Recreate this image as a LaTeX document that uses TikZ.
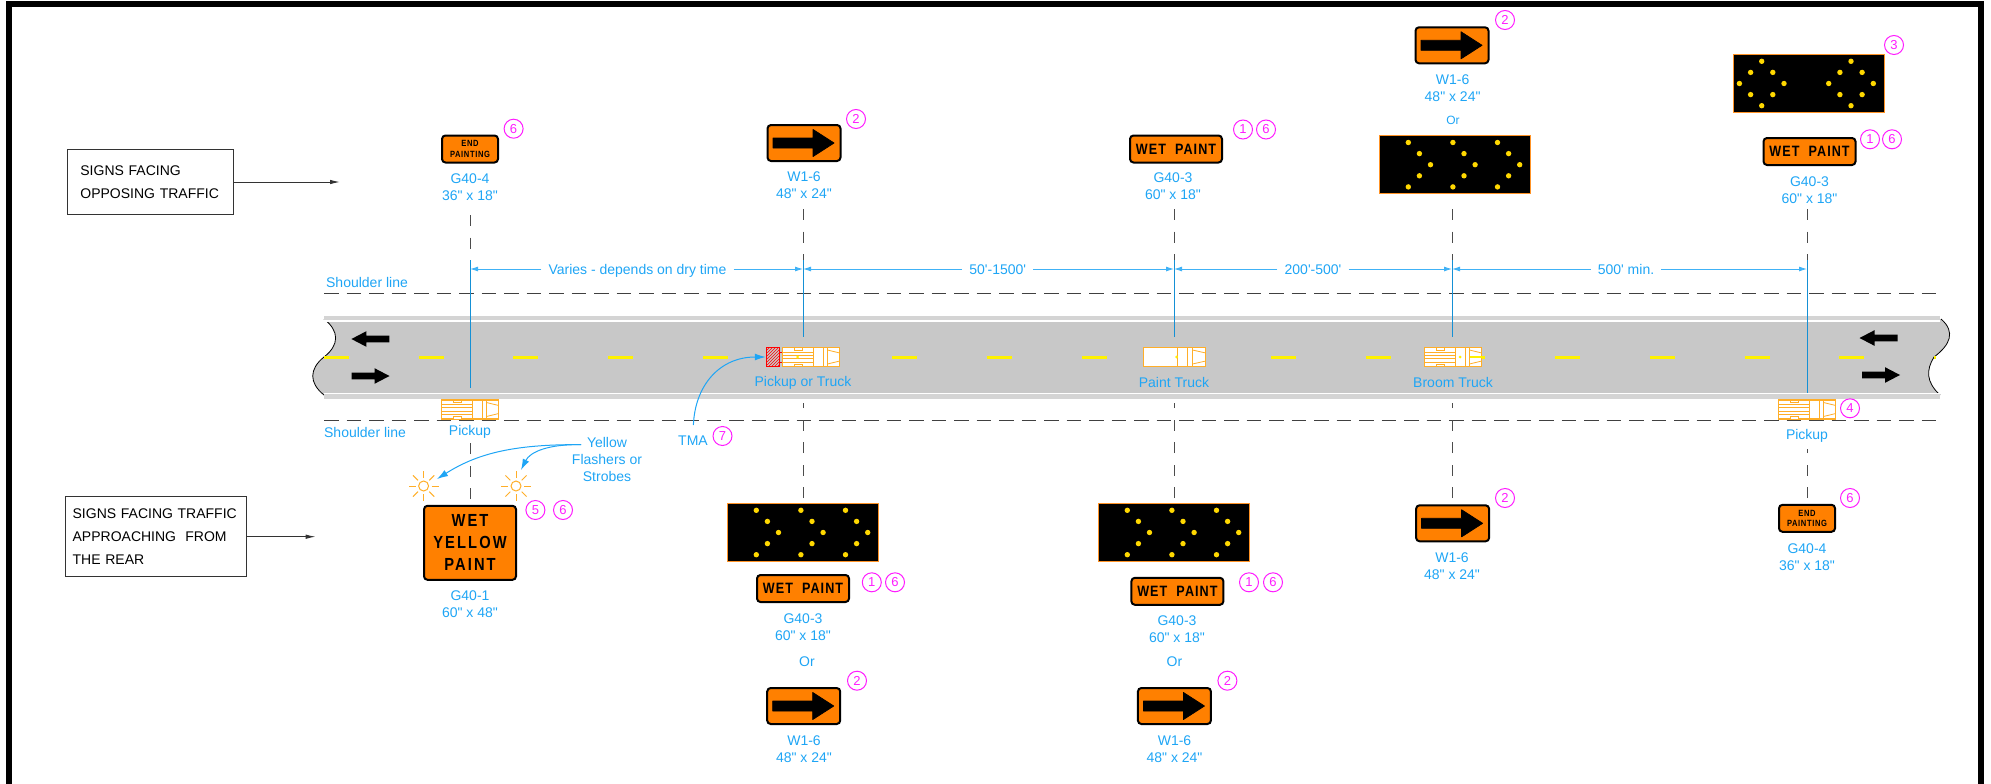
\documentclass[tikz,border=0pt]{standalone}
\usepackage{fontspec}
\usetikzlibrary{arrows.meta,positioning,patterns}
\newfontfamily\lblfont{Liberation Sans}
\newfontfamily\signfont[FakeStretch=0.84,LetterSpace=7]{Liberation Sans}
\newfontfamily\bigsignfont[FakeStretch=0.84,LetterSpace=12]{Liberation Sans}
\definecolor{lblue}{HTML}{1EA5F5}
\definecolor{linblue}{HTML}{1590D5}
\definecolor{numpink}{HTML}{FF1CFF}
\definecolor{signorange}{HTML}{FF8000}
\definecolor{truckorange}{HTML}{FFAE28}
\definecolor{dotyellow}{HTML}{FFD800}
\definecolor{roadgray}{HTML}{C8C8C8}
\definecolor{bandgray}{HTML}{D4D4D4}
\tikzset{
    lbl/.style={font=\lblfont\fontsize{14}{16.7}\selectfont, text=lblue, align=center, inner sep=0pt},
    sgnlbl/.style={lbl, yshift=-1pt},
    dimlbl/.style={lbl, inner xsep=7pt, text height=10pt, text depth=0pt},
    smalllbl/.style={font=\lblfont\fontsize{12}{14}\selectfont, text=lblue, inner sep=0pt},
    numc/.style={circle, draw=numpink, text=numpink, line width=1pt, minimum size=19pt, inner sep=0pt, font=\lblfont\fontsize{13}{13}\selectfont},
    legend/.style={rectangle, draw=black!80, line width=1pt, align=left, font=\lblfont\fontsize{14}{22.7}\selectfont},
    signbox/.style={rectangle, rounded corners=3.5pt, draw=black, line width=2pt, fill=signorange, inner sep=0pt, align=center},
    wetsign/.style={signbox, minimum width=92pt, minimum height=27pt, font=\signfont\bfseries\fontsize{15}{15}\selectfont},
    endsign/.style={signbox, minimum width=56pt, minimum height=27pt, font=\signfont\bfseries\fontsize{9}{10.5}\selectfont},
    arrsign/.style={signbox, minimum width=73pt, minimum height=36pt},
    yelsign/.style={signbox, minimum width=92pt, minimum height=74pt, font=\bigsignfont\bfseries\fontsize{17.5}{22}\selectfont},
    panel/.style={rectangle, draw=signorange!85!white, line width=1.5pt, fill=black, minimum width=151pt, minimum height=58pt, inner sep=0pt},
    tmabox/.style={rectangle, draw=red, line width=1pt, fill=red!25, pattern=north east lines, pattern color=red, minimum width=13pt, minimum height=19pt, inner sep=0pt},
    guide/.style={draw=black!70, line width=1pt, dash pattern=on 11pt off 11.5pt},
    shoulder/.style={draw=black!75, line width=1pt, dash pattern=on 14.5pt off 8pt},
    offset/.style={draw=linblue, line width=.8pt},
    dimln/.style={draw=lblue!85!white, line width=.9pt, -{Latex[length=8pt,width=5pt]}},
    pil/.style={draw=lblue, line width=1pt, -{Latex[length=11pt,width=7pt]}},
    legpil/.style={draw=black!80, line width=1pt, -{Latex[length=10pt,width=4.5pt]}},
    signarrow/.pic={
      \fill[black, draw=black, line width=.8pt, line join=round] (-31,-5) -- (9,-5) -- (9,-13.5) -- (30,0) -- (9,13.5) -- (9,5) -- (-31,5) -- cycle;
    },
    roadarrow/.pic={
      \fill[black] (-19,-3.4) -- (4,-3.4) -- (4,-7.8) -- (19,0) -- (4,7.8) -- (4,3.4) -- (-19,3.4) -- cycle;
    },
    chevdots/.pic={
      \foreach \s in {-46.7,-2.1,42.5} {
        \foreach \a/\b in {0/-22.2,11.1/-11.1,22.2/0,11.1/11.1,0/22.2}
          \fill[dotyellow] (\s+\a,\b) circle (2.7);
      }
    },
    diadots/.pic={
      \foreach \s in {-47.3,42} {
        \foreach \a/\b in {0/-22.2,-11.1/-11.1,11.1/-11.1,-22.3/0,22.3/0,-11.1/11.1,11.1/11.1,0/22.2}
          \fill[dotyellow] (\s+\a,\b) circle (2.7);
      }
    },
    sunflash/.pic={
      \draw[truckorange, line width=1pt] (0,0) circle (5);
      \foreach \t in {0,45,...,315}
        \draw[truckorange, line width=1pt] (\t:8) -- (\t:15);
    },
    truck/.pic={
      \draw[truckorange, line width=1.4pt, fill=white] (-28.7,-9.5) rectangle (28.7,9.5);
      \draw[truckorange, line width=1.1pt] (2.7,-9.5) -- (2.7,9.5) (12.3,-9.5) -- (12.3,9.5) (16.5,-9.5) -- (16.5,9.5);
      \draw[truckorange, line width=.8pt] (16.5,-7) -- (28.7,-4) (16.5,7) -- (28.7,4);
    },
    bedlines/.pic={
      \draw[truckorange, line width=1pt] (-28.7,-5) -- (2.7,-5) (-28.7,-1.7) -- (2.7,-1.7) (-28.7,1.7) -- (2.7,1.7) (-28.7,5) -- (2.7,5);
      \draw[truckorange, line width=.8pt, fill=white] (-16.7,-9.5) rectangle (-9,-7) (-16.7,9.5) rectangle (-9,7);
    }
}

\begin{document}
\begin{tikzpicture}[x=1pt, y=-1pt]
    \useasboundingbox (0,0) rectangle (1991,784);
    % outer frame
    \draw[line width=6pt] (8.5,784) -- (8.5,4) -- (1981,4) -- (1981,784);

    % road
    \fill[roadgray] (324,319) .. controls (339.5,331) and (339.5,345) .. (324,357)
      .. controls (309,369) and (309,383) .. (324,395) -- (1940,395)
      .. controls (1926,382) and (1926,370) .. (1934,357)
      .. controls (1950,345) and (1956,332) .. (1941,319) -- cycle;
    \draw[line width=.8pt] (324,319) .. controls (339.5,331) and (339.5,345) .. (324,357)
      .. controls (309,369) and (309,383) .. (324,395);
    \draw[line width=.8pt] (1940,395) .. controls (1926,382) and (1926,370) .. (1934,357)
      .. controls (1950,345) and (1956,332) .. (1941,319);
    \fill[bandgray] (324,315.5) rectangle (1940,320);
    \fill[white] (324,320) rectangle (1940,321.5);
    \fill[white] (324,392.5) rectangle (1940,394);
    \fill[bandgray] (324,394) rectangle (1940,398.5);
    \draw[yellow, line width=3pt, dash pattern=on 25pt off 69.7pt] (324,357) -- (1936,357);
    \pic at (370.4,339) [xscale=-1] {roadarrow};
    \pic at (370.5,376) {roadarrow};
    \pic at (1878.5,338) [xscale=-1] {roadarrow};
    \pic at (1881,375) {roadarrow};

    % shoulder lines
    \coordinate (shuL) at (324,293.7);
    \coordinate (shuR) at (1940,293.7);
    \coordinate (shlL) at (324,420);
    \coordinate (shlR) at (1940,420);
    \draw[shoulder] (shuL) -- (shuR);
    \draw[shoulder] (shlL) -- (shlR);
    \node[lbl] (shuText) at (367,282.7) {Shoulder line};
    \node[lbl] (shlText) at (365,432.3) {Shoulder line};

    % legend boxes
    \node[legend, text width=140pt, inner xsep=13pt, minimum height=64.6pt] (opposing) at (150.4,182) {SIGNS FACING\\OPPOSING TRAFFIC};
    \coordinate (oppTip) at (340,182);
    \draw[legpil] (opposing.east |- oppTip) -- (oppTip);
    \node[legend, text width=167.3pt, inner xsep=6.7pt, minimum height=80pt] (rear) at (156.3,536.7) {SIGNS FACING TRAFFIC\\APPROACHING\ \ FROM\\THE REAR};
    \coordinate (rearTip) at (315.7,536.7);
    \draw[legpil] (rear.east |- rearTip) -- (rearTip);

    % vertical guide lines, all drawn away from the road end of the sign
    \coordinate (gA1) at (470,215);
    \coordinate (gA2) at (470,260);
    \coordinate (gA3) at (470,388);
    \coordinate (gA4) at (470,442);
    \coordinate (gA5) at (470,499);
    \coordinate (gB1) at (803,209);
    \coordinate (gB2) at (803,260);
    \coordinate (gB3) at (803,337);
    \coordinate (gB4) at (803,403);
    \coordinate (gB5) at (803,498);
    \coordinate (gC1) at (1174,209);
    \coordinate (gC2) at (1174,260);
    \coordinate (gC3) at (1174,337);
    \coordinate (gC4) at (1174,403);
    \coordinate (gC5) at (1174,498);
    \coordinate (gD1) at (1452,209);
    \coordinate (gD2) at (1452,260);
    \coordinate (gD3) at (1452,337);
    \coordinate (gD4) at (1452,403);
    \coordinate (gD5) at (1452,498);
    \coordinate (gE1) at (1807,209);
    \coordinate (gE2) at (1807,260);
    \coordinate (gE3) at (1807,393);
    \coordinate (gE4) at (1807,449);
    \coordinate (gE5) at (1807,498);
    \draw[guide] (gA1) -- (gA2);
    \draw[guide] (gB1) -- (gB2);
    \draw[guide] (gC1) -- (gC2);
    \draw[guide] (gD1) -- (gD2);
    \draw[guide] (gE1) -- (gE2);
    \draw[guide] (gA5) -- (gA4);
    \draw[guide] (gB5) -- (gB4);
    \draw[guide] (gC5) -- (gC4);
    \draw[guide] (gD5) -- (gD4);
    \draw[guide] (gE5) -- (gE4);
    \draw[offset] (gA2) -- (gA3);
    \draw[offset] (gB2) -- (gB3);
    \draw[offset] (gC2) -- (gC3);
    \draw[offset] (gD2) -- (gD3);
    \draw[offset] (gE2) -- (gE3);

    % spacing dimensions
    \coordinate (dA) at (470,269);
    \coordinate (dB) at (803,269);
    \coordinate (dC) at (1174,269);
    \coordinate (dD) at (1452,269);
    \coordinate (dE) at (1807,269);
    \node[dimlbl] (dimAB) at (637.5,269) {Varies - depends on dry time};
    \node[dimlbl] (dimBC) at (997.7,269) {50'-1500'};
    \node[dimlbl] (dimCD) at (1313,269) {200'-500'};
    \node[dimlbl] (dimDE) at (1626,269) {500' min.};
    \draw[dimln] (dimAB) -- (dA);
    \draw[dimln] (dimAB) -- (dB);
    \draw[dimln] (dimBC) -- (dB);
    \draw[dimln] (dimBC) -- (dC);
    \draw[dimln] (dimCD) -- (dC);
    \draw[dimln] (dimCD) -- (dD);
    \draw[dimln] (dimDE) -- (dD);
    \draw[dimln] (dimDE) -- (dE);

    % vehicles
    \pic (pickupL) at (470,409.5) {truck};
    \pic at (470,409.5) {bedlines};
    \pic (pickupT) at (811,357) {truck};
    \pic at (811,357) {bedlines};
    \fill[yellow] (797.5,357) circle (1.5);
    \node[tmabox] (tma) at (772.75,357) {};
    \draw[red, line width=1pt] (tma.east |- 0,352) -- (782,352) (tma.east |- 0,362) -- (782,362);
    \pic (paint) at (1174.5,357) [xscale=1.09] {truck};
    \fill[yellow] (1176.5,357) circle (1.5);
    \pic (broom) at (1453,357) {truck};
    \pic at (1453,357) {bedlines};
    \fill[yellow] (1460,357) circle (1.5);
    \draw[yellow, line width=1.5pt] (1470,357) -- (1485,357);
    \node[lbl] (pickL) at (470,431.5) {Pickup};
    \node[lbl] (pickT) at (803,383) {Pickup or Truck};
    \node[lbl] (paintT) at (1174,382.5) {Paint Truck};
    \node[lbl] (broomT) at (1453,382.5) {Broom Truck};
    \pic (pickupR) at (1807,409.5) {truck};
    \pic at (1807,409.5) {bedlines};
    \node[lbl] (pickR) at (1807,436) {Pickup};
    \node[numc] (n4) at (1850,408.3) {4};

    % TMA callout
    \node[lbl] (tmaT) at (693,441) {TMA};
    \node[numc] (n7) at (722.5,436) {7};
    \coordinate (tmaFoot) at (693.4,425);
    \draw[pil] (tmaFoot) .. controls (695,385) and (720,357) .. (tma.west);

    % flashers
    \pic (sunA) at (423.6,486) {sunflash};
    \pic (sunB) at (516,486) {sunflash};
    \node[lbl] (flash) at (607,459.5) {Yellow\\Flashers or\\Strobes};
    \coordinate (flashFoot) at (581,444.7);
    \coordinate (sunAtip) at (437,479);
    \coordinate (sunBtip) at (521,470);
    \draw[pil] (flashFoot) .. controls (510,444) and (475,455) .. (sunAtip);
    \draw[pil] (flashFoot) .. controls (548,444) and (530,452) .. (sunBtip);
    \node[numc] (n5) at (535.4,510) {5};
    \node[numc] (n6a) at (563,510) {6};

    % column at G40-4 / G40-1
    \node[endsign] (endA) at (470,149) {END\\PAINTING};
    \node[numc] (n6b) at (513.6,128.7) {6};
    \node[sgnlbl] (endAt) at (470,186.5) {G40-4\\36" x 18"};
    \node[yelsign, text depth=0pt, yshift=-.5pt] (yellow) at (470,542.3) {WET\\YELLOW\\PAINT};
    \node[sgnlbl] (yellowT) at (470,603) {G40-1\\60" x 48"};

    % column at pickup or truck
    \node[arrsign] (arrB) at (804,143) {};
    \pic at (arrB) {signarrow};
    \node[numc] (n2b) at (856,119) {2};
    \node[sgnlbl] (arrBt) at (804,184.5) {W1-6\\48" x 24"};
    \node[panel] (panB) at (803,532.5) {};
    \pic at (panB) {chevdots};
    \node[wetsign] (wetB) at (803,588.5) {WET\ \ PAINT};
    \node[numc] (n1b) at (871.8,582.3) {1};
    \node[numc] (n6c) at (895,582.3) {6};
    \node[sgnlbl] (wetBt) at (803,626) {G40-3\\60" x 18"};
    \node[lbl] (orB) at (807,662) {Or};
    \node[arrsign] (arrBb) at (803.7,706) {};
    \pic at (arrBb) {signarrow};
    \node[numc] (n2c) at (857,680.7) {2};
    \node[sgnlbl] (arrBbt) at (804,748) {W1-6\\48" x 24"};

    % column at paint truck
    \node[wetsign] (wetC) at (1176,149) {WET\ \ PAINT};
    \node[numc] (n1c) at (1243,129.5) {1};
    \node[numc] (n6d) at (1266,129.5) {6};
    \node[sgnlbl] (wetCt) at (1173,185) {G40-3\\60" x 18"};
    \node[panel] (panC) at (1174,532.5) {};
    \pic at (panC) {chevdots};
    \node[wetsign] (wetCb) at (1177.4,591.3) {WET\ \ PAINT};
    \node[numc] (n1d) at (1249,582.3) {1};
    \node[numc] (n6e) at (1273,582.3) {6};
    \node[sgnlbl] (wetCbt) at (1177,628.5) {G40-3\\60" x 18"};
    \node[lbl] (orC) at (1174.5,662) {Or};
    \node[arrsign] (arrCb) at (1174.4,706) {};
    \pic at (arrCb) {signarrow};
    \node[numc] (n2d) at (1227.4,680.7) {2};
    \node[sgnlbl] (arrCbt) at (1174.5,748) {W1-6\\48" x 24"};

    % column at broom truck
    \node[arrsign] (arrD) at (1452,45.3) {};
    \pic at (arrD) {signarrow};
    \node[numc] (n2e) at (1505,20) {2};
    \node[sgnlbl] (arrDt) at (1452.6,87.3) {W1-6\\48" x 24"};
    \node[smalllbl] (orD) at (1453,120.7) {Or};
    \node[panel] (panD) at (1455,164.7) {};
    \pic at (panD) {chevdots};
    \node[arrsign] (arrDb) at (1452.6,523.3) {};
    \pic at (arrDb) {signarrow};
    \node[numc] (n2f) at (1505,498) {2};
    \node[sgnlbl] (arrDbt) at (1452,565) {W1-6\\48" x 24"};

    % right column
    \node[panel] (panE) at (1809,83.5) {};
    \pic at (panE) {diadots};
    \node[numc] (n3) at (1894,45) {3};
    \node[wetsign] (wetE) at (1809.5,151.5) {WET\ \ PAINT};
    \node[numc] (n1e) at (1870,139.3) {1};
    \node[numc] (n6f) at (1892,139.3) {6};
    \node[sgnlbl] (wetEt) at (1809.5,189) {G40-3\\60" x 18"};
    \node[endsign] (endE) at (1807,518.3) {END\\PAINTING};
    \node[numc] (n6g) at (1850,498) {6};
    \node[sgnlbl] (endEt) at (1807,556) {G40-4\\36" x 18"};
\end{tikzpicture}
\end{document}
